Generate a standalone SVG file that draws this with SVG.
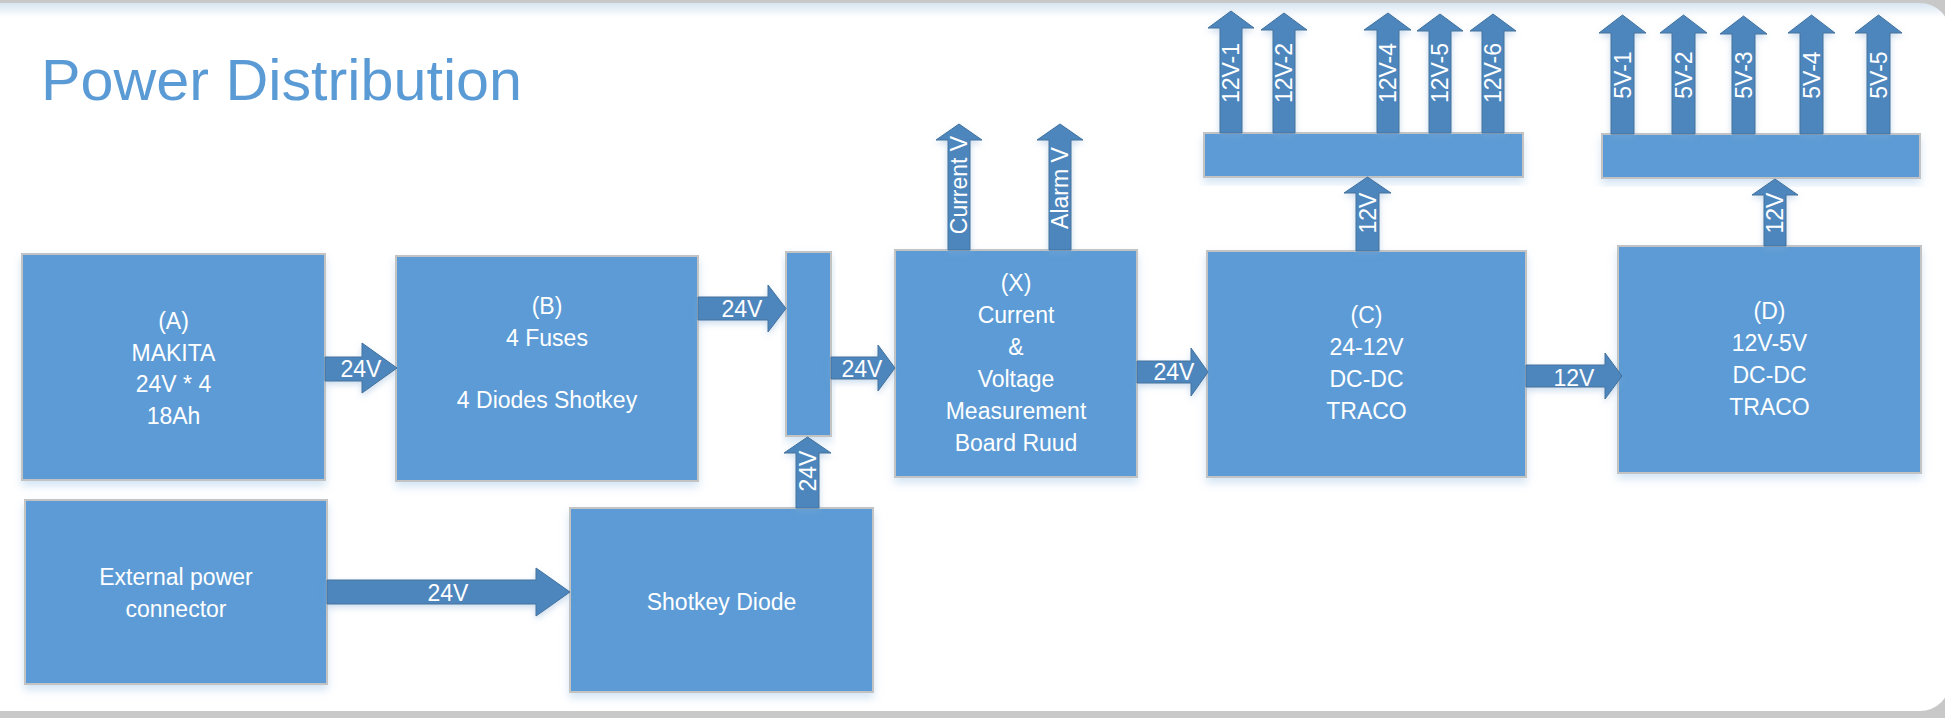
<svg xmlns="http://www.w3.org/2000/svg" width="1945" height="718" viewBox="0 0 1945 718">
<style>
.box{fill:#5b9bd5;stroke:#c3c3c3;stroke-width:2;filter:url(#sh)}
.arr{fill:#4e86bd;stroke:#41719c;stroke-width:1;filter:url(#sh2)}
.t{font-family:"Liberation Sans",Arial,sans-serif;font-size:23px;fill:#ffffff;text-anchor:middle}
.title{font-family:"Liberation Sans",Arial,sans-serif;font-size:58px;fill:#5b9bd5}
</style>
<defs>
<linearGradient id="bg" x1="0" y1="0" x2="0" y2="1">
<stop offset="0" stop-color="#d6e4f1"/>
<stop offset="0.02" stop-color="#ffffff"/>
<stop offset="1" stop-color="#ffffff"/>
</linearGradient>
<filter id="sh" x="-10%" y="-10%" width="120%" height="130%">
<feDropShadow dx="0" dy="5" stdDeviation="4" flood-color="#9dc3e6" flood-opacity="0.45"/>
</filter>
<filter id="sh2" x="-20%" y="-20%" width="140%" height="150%">
<feDropShadow dx="0" dy="3" stdDeviation="3" flood-color="#7fa9d3" flood-opacity="0.4"/>
</filter>
</defs>
<rect x="0" y="0" width="1945" height="718" fill="#c8c8c8"/>
<rect x="-40" y="3" width="1990" height="708" rx="30" fill="url(#bg)"/>
<text class="title" x="41" y="100" textLength="481" lengthAdjust="spacingAndGlyphs">Power Distribution</text>

<g id="node-A"><rect class="box" x="22" y="254" width="303" height="226"/>
<text class="t" x="173.5" y="329">(A)</text><text class="t" x="173.5" y="361">MAKITA</text><text class="t" x="173.5" y="392">24V * 4</text><text class="t" x="173.5" y="424">18Ah</text></g>
<g id="node-B"><rect class="box" x="396" y="256" width="302" height="225"/>
<text class="t" x="547" y="314">(B)</text><text class="t" x="547" y="346">4 Fuses</text><text class="t" x="547" y="408">4 Diodes Shotkey</text></g>
<g id="node-ext"><rect class="box" x="25" y="500" width="302" height="184"/>
<text class="t" x="176" y="585">External power</text><text class="t" x="176" y="617">connector</text></g>
<g id="node-shotkey"><rect class="box" x="570" y="508" width="303" height="184"/>
<text class="t" x="721.5" y="610">Shotkey Diode</text></g>
<g id="node-bus"><rect class="box" x="786" y="252" width="45" height="184"/></g>
<g id="node-X"><rect class="box" x="895" y="250" width="242" height="227"/>
<text class="t" x="1016" y="291">(X)</text><text class="t" x="1016" y="323">Current</text><text class="t" x="1016" y="355">&amp;</text><text class="t" x="1016" y="387">Voltage</text><text class="t" x="1016" y="419">Measurement</text><text class="t" x="1016" y="451">Board Ruud</text></g>
<g id="node-C"><rect class="box" x="1207" y="251" width="319" height="226"/>
<text class="t" x="1366.5" y="323">(C)</text><text class="t" x="1366.5" y="355">24-12V</text><text class="t" x="1366.5" y="387">DC-DC</text><text class="t" x="1366.5" y="419">TRACO</text></g>
<g id="node-D"><rect class="box" x="1618" y="246" width="303" height="227"/>
<text class="t" x="1769.5" y="319">(D)</text><text class="t" x="1769.5" y="351">12V-5V</text><text class="t" x="1769.5" y="383">DC-DC</text><text class="t" x="1769.5" y="415">TRACO</text></g>
<g id="node-bar12"><rect class="box" x="1204" y="133" width="319" height="44"/></g>
<g id="node-bar5"><rect class="box" x="1602" y="134" width="318" height="44"/></g>

<g id="connectors">
<polygon class="arr" points="325,357 362,357 362,343 397,368 362,393 362,381 325,381"/>
<text class="t" x="361" y="377">24V</text>
<polygon class="arr" points="698,297 768,297 768,285 786,308.5 768,332 768,320 698,320"/>
<text class="t" x="742" y="317">24V</text>
<polygon class="arr" points="831,357 878,357 878,345 895,368 878,391 878,379 831,379"/>
<text class="t" x="862" y="377">24V</text>
<polygon class="arr" points="1137,361 1191,361 1191,348 1208,372 1191,396 1191,383 1137,383"/>
<text class="t" x="1174" y="380">24V</text>
<polygon class="arr" points="1526,365 1605,365 1605,353 1622,376 1605,399 1605,387 1526,387"/>
<text class="t" x="1574" y="386">12V</text>
<polygon class="arr" points="327,580 536,580 536,568 570,592 536,616 536,604 327,604"/>
<text class="t" x="448" y="601">24V</text>
<polygon class="arr" points="796,508 796,453 784,453 807.5,437 831,453 819,453 819,508"/>
<text class="t" x="807.5" y="479" transform="rotate(-90 807.5 471)">24V</text>

<polygon class="arr" points="948,250 948,140 936,140 959,124 982,140 970,140 970,250"/>
<text class="t" x="959" y="193" transform="rotate(-90 959 185)">Current V</text>
<polygon class="arr" points="1049,250 1049,140 1037,140 1060,124 1083,140 1071,140 1071,250"/>
<text class="t" x="1060" y="196" transform="rotate(-90 1060 188)">Alarm V</text>

<polygon class="arr" points="1356,251 1356,193 1344,193 1367.5,177 1391,193 1379,193 1379,251"/>
<text class="t" x="1367.5" y="221" transform="rotate(-90 1367.5 213)">12V</text>
<polygon class="arr" points="1764,246 1764,195 1752,195 1775,179 1798,195 1786,195 1786,246"/>
<text class="t" x="1775" y="221" transform="rotate(-90 1775 213)">12V</text>

<polygon class="arr" points="1220,133 1220,28 1208,28 1231,11 1254,28 1242,28 1242,133"/>
<text class="t" x="1231" y="81" transform="rotate(-90 1231 73)">12V-1</text>
<polygon class="arr" points="1273,133 1273,30 1261,30 1284,13 1307,30 1295,30 1295,133"/>
<text class="t" x="1284" y="81" transform="rotate(-90 1284 73)">12V-2</text>
<polygon class="arr" points="1377,133 1377,30 1364,30 1388,13 1411,30 1399,30 1399,133"/>
<text class="t" x="1388" y="81" transform="rotate(-90 1388 73)">12V-4</text>
<polygon class="arr" points="1429,133 1429,31 1417,31 1440,14 1463,31 1451,31 1451,133"/>
<text class="t" x="1440" y="81" transform="rotate(-90 1440 73)">12V-5</text>
<polygon class="arr" points="1482,133 1482,31 1470,31 1493,14 1516,31 1504,31 1504,133"/>
<text class="t" x="1493" y="81" transform="rotate(-90 1493 73)">12V-6</text>

<polygon class="arr" points="1611,134 1611,33 1599,33 1622.5,15 1646,33 1634,33 1634,134"/>
<text class="t" x="1622.5" y="83" transform="rotate(-90 1622.5 75)">5V-1</text>
<polygon class="arr" points="1672,134 1672,33 1660,33 1683.5,15 1707,33 1695,33 1695,134"/>
<text class="t" x="1683.5" y="83" transform="rotate(-90 1683.5 75)">5V-2</text>
<polygon class="arr" points="1732,134 1732,34 1720,34 1743.5,16 1767,34 1755,34 1755,134"/>
<text class="t" x="1743.5" y="83" transform="rotate(-90 1743.5 75)">5V-3</text>
<polygon class="arr" points="1800,134 1800,33 1788,33 1811.5,15 1835,33 1823,33 1823,134"/>
<text class="t" x="1811.5" y="83" transform="rotate(-90 1811.5 75)">5V-4</text>
<polygon class="arr" points="1867,134 1867,33 1855,33 1878.5,15 1902,33 1890,33 1890,134"/>
<text class="t" x="1878.5" y="83" transform="rotate(-90 1878.5 75)">5V-5</text>
</g>
</svg>
